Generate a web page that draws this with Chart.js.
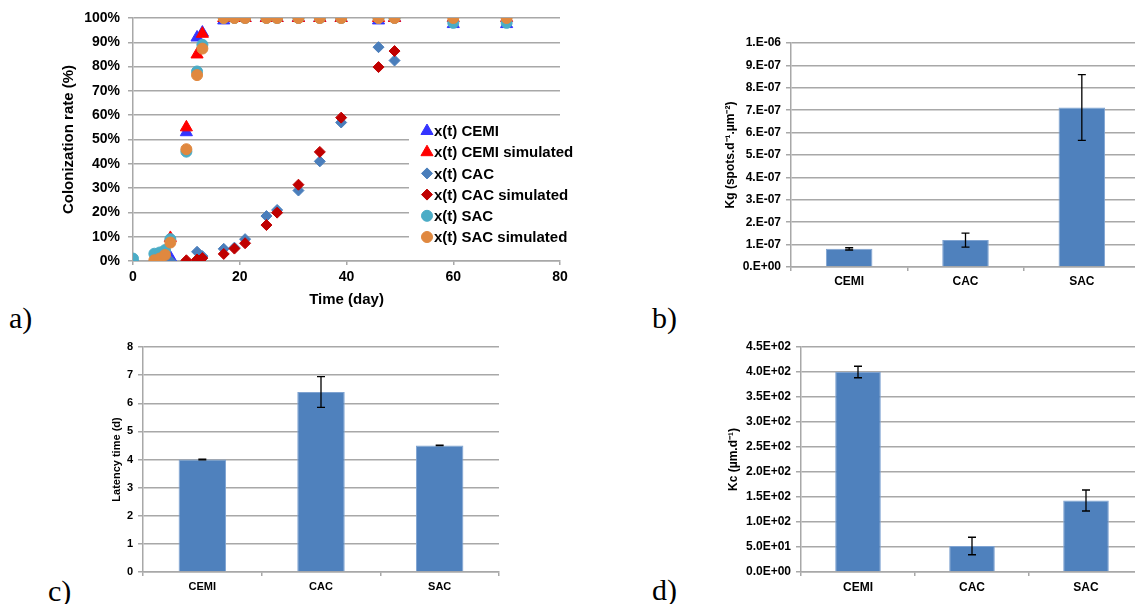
<!DOCTYPE html>
<html>
<head>
<meta charset="utf-8">
<script src="https://cdn.jsdelivr.net/npm/chart.js@4/dist/chart.umd.min.js"></script>
<style>
  body { margin: 0; width: 1135px; height: 604px; overflow: hidden; background: #fff; position: relative; }
  canvas { position: absolute; }
  .lbl { position: absolute; font-family: "Liberation Serif", "Times New Roman", serif; font-size: 30px; line-height: 30px; color: #000; }
</style>
</head>
<body>
<div class="lbl" style="left:9px;top:303px">a)</div>
<div class="lbl" style="left:652px;top:303px">b)</div>
<div class="lbl" style="left:48px;top:576px">c)</div>
<div class="lbl" style="left:652px;top:575px">d)</div>

<canvas id="chartA" width="600" height="320" style="left:0;top:0"></canvas>
<canvas id="chartB" width="460" height="300" style="left:680px;top:0"></canvas>
<canvas id="chartC" width="460" height="274" style="left:60px;top:330px"></canvas>
<canvas id="chartD" width="485" height="274" style="left:660px;top:330px"></canvas>

<script>
// a) colonization rate vs time (days, %)
const cemiDays = [0, 4, 5, 6, 7, 10, 12, 13, 17, 19, 21, 25, 27, 31, 35, 39, 46, 49, 60, 70];
const cemiRate = [0, 0, 0, 0.5, 1.5, 53, 92, 94, 99, 100, 100, 100, 100, 100, 100, 100, 99, 100, 97.5, 97.5];
const cemiSimDays = [4, 5, 6, 7, 10, 12, 13, 17, 19, 21, 25, 27, 31, 35, 39, 46, 49, 60, 70];
const cemiSimRate = [0, 0, 1, 9.5, 55, 85, 93.5, 100, 100, 100, 100, 100, 100, 100, 100, 100, 100, 100, 100];
const cacDays = [0, 4, 5, 6, 7, 12, 13, 17, 19, 21, 25, 27, 31, 35, 39, 46, 49];
const cacRate = [0, 0, 0, 0, 0, 3.8, 2, 5, 5.5, 9, 18.5, 21, 29, 41, 57, 88, 82.5];
const cacSimDays = [10, 12, 13, 17, 19, 21, 25, 27, 31, 35, 39, 46, 49];
const cacSimRate = [0.3, 0.6, 1.2, 2.9, 5.1, 7.3, 14.8, 19.9, 31.4, 44.9, 59, 79.8, 86.4];
const sacDays = [0, 4, 5, 6, 7, 10, 12, 13, 17, 19, 21, 25, 27, 31, 35, 39, 46, 49, 60, 70];
const sacRate = [1, 3, 3.5, 4.5, 9, 45, 78, 89, 100, 100, 100, 100, 100, 100, 100, 100, 100, 100, 98, 98];
const sacSimDays = [4, 5, 6, 7, 10, 12, 13, 17, 19, 21, 25, 27, 31, 35, 39, 46, 49, 60, 70];
const sacSimRate = [0.3, 1, 2.5, 7.6, 46, 76.5, 87.4, 100, 100, 100, 100, 100, 100, 100, 100, 100, 100, 100, 100];

// b), c), d) bar panels
const materials = ['CEMI', 'CAC', 'SAC'];
const kgMean = [8.1e-8, 1.2e-7, 7.12e-7];
const kgErr = [0.5e-8, 3.1e-8, 1.47e-7];
const latencyMean = [4.0, 6.4, 4.5];
const latencyErr = [0.01, 0.55, 0.01];
const kcMean = [400, 52, 143];
const kcErr = [11.5, 17.5, 21];

const FONT = '"Liberation Sans", Arial, sans-serif';
const GRID = '#A8A8A8';
const BAR = '#4F81BD';

Chart.defaults.font.family = FONT;
Chart.defaults.font.weight = 'bold';
Chart.defaults.color = '#000';
Chart.defaults.animation = false;

function points(days, rate) {
  return days.map((d, i) => ({ x: d, y: rate[i] }));
}

// white legend box sitting inside the plot of panel a
const insideLegend = {
  id: 'insideLegend',
  beforeDatasetsDraw(chart, args, opts) {
    if (!opts.items) return;
    const ctx = chart.ctx;
    ctx.save();
    ctx.fillStyle = '#fff';
    ctx.fillRect(opts.left, opts.top, opts.width, opts.height);
    ctx.font = 'bold 15px ' + FONT;
    ctx.textBaseline = 'middle';
    opts.items.forEach((ds, i) => {
      const y = opts.firstRow + i * opts.rowGap;
      ctx.fillStyle = ds.backgroundColor;
      ctx.strokeStyle = ds.backgroundColor;
      ctx.lineWidth = 1;
      Chart.helpers.drawPoint(ctx, {
        pointStyle: ds.pointStyle, radius: ds.pointRadius, rotation: 0, borderWidth: 1
      }, opts.markerX, y);
      ctx.fillStyle = '#000';
      ctx.fillText(ds.label, opts.markerX + 7, y + 1);
    });
    ctx.restore();
  }
};

const errorBars = {
  id: 'errorBars',
  afterDatasetsDraw(chart, args, opts) {
    if (!opts.errors) return;
    const ctx = chart.ctx;
    const yScale = chart.scales.y;
    const values = chart.data.datasets[0].data;
    ctx.save();
    ctx.strokeStyle = '#000';
    ctx.lineWidth = 1.3;
    chart.getDatasetMeta(0).data.forEach((bar, i) => {
      const hi = yScale.getPixelForValue(values[i] + opts.errors[i]);
      const lo = yScale.getPixelForValue(values[i] - opts.errors[i]);
      ctx.beginPath();
      ctx.moveTo(bar.x, hi); ctx.lineTo(bar.x, lo);
      ctx.moveTo(bar.x - 4, hi); ctx.lineTo(bar.x + 4, hi);
      ctx.moveTo(bar.x - 4, lo); ctx.lineTo(bar.x + 4, lo);
      ctx.stroke();
    });
    ctx.restore();
  }
};

Chart.register(insideLegend, errorBars);

function scatterSet(label, days, rate, color, style, radius, order) {
  return {
    label: label,
    data: points(days, rate),
    backgroundColor: color,
    borderColor: color,
    pointStyle: style,
    pointRadius: radius,
    pointBorderWidth: 1,
    showLine: false,
    order: order
  };
}

const scatterSets = [
  scatterSet('x(t) CEMI', cemiDays, cemiRate, '#3434FF', 'triangle', 7, 6),
  scatterSet('x(t) CEMI simulated', cemiSimDays, cemiSimRate, '#FF0000', 'triangle', 7, 5),
  scatterSet('x(t) CAC', cacDays, cacRate, '#4A7EBB', 'rectRot', 5.5, 4),
  scatterSet('x(t) CAC simulated', cacSimDays, cacSimRate, '#C00000', 'rectRot', 5.5, 3),
  scatterSet('x(t) SAC', sacDays, sacRate, '#4BACC6', 'circle', 5.5, 2),
  scatterSet('x(t) SAC simulated', sacSimDays, sacSimRate, '#E0883F', 'circle', 5.5, 1)
];

new Chart(document.getElementById('chartA'), {
  type: 'scatter',
  data: { datasets: scatterSets },
  options: {
    responsive: false,
    layout: { padding: { top: 18, right: 40, bottom: 0, left: 0 } },
    plugins: {
      legend: { display: false },
      tooltip: { enabled: false },
      insideLegend: {
        items: scatterSets, left: 409, top: 121, width: 170, height: 128,
        markerX: 427, firstRow: 131, rowGap: 21.2
      }
    },
    scales: {
      x: {
        type: 'linear', min: 0, max: 80,
        ticks: { stepSize: 20, font: { size: 14 }, padding: 4 },
        grid: { drawOnChartArea: false, tickLength: 4, color: GRID, lineWidth: 1.5 },
        border: { color: GRID, width: 1.5 },
        title: { display: true, text: 'Time (day)', font: { size: 15 }, padding: { top: 0, bottom: 11 } },
        afterFit: s => { s.height = 59; }
      },
      y: {
        min: 0, max: 100,
        ticks: { stepSize: 10, font: { size: 14 }, padding: 8, callback: v => v + '%' },
        grid: { color: GRID, lineWidth: 1.5, tickLength: 5 },
        border: { color: GRID, width: 1.5 },
        title: { display: true, text: 'Colonization rate (%)', font: { size: 15 }, padding: { top: 60, bottom: 0 } },
        afterFit: s => { s.width = 133; }
      }
    }
  }
});

function barChart(id, values, errors, cfg) {
  return new Chart(document.getElementById(id), {
    type: 'bar',
    data: {
      labels: materials,
      datasets: [{
        data: values,
        backgroundColor: BAR,
        borderColor: '#7FA3D1',
        borderWidth: 1,
        categoryPercentage: 1,
        barPercentage: 0.4
      }]
    },
    options: {
      responsive: false,
      layout: { padding: cfg.padding },
      plugins: {
        legend: { display: false },
        tooltip: { enabled: false },
        errorBars: { errors: errors }
      },
      scales: {
        x: {
          ticks: { font: { size: cfg.font }, padding: cfg.xPad },
          grid: { drawOnChartArea: false, tickLength: 4, color: GRID, lineWidth: 1.5 },
          border: { color: GRID, width: 1.5 },
          afterFit: s => { s.height = cfg.xHeight; }
        },
        y: {
          min: 0, max: cfg.max,
          ticks: { stepSize: cfg.step, font: { size: cfg.font }, padding: 5, callback: cfg.format },
          grid: { color: GRID, lineWidth: 1.5, tickLength: 5 },
          border: { color: GRID, width: 1.5 },
          title: { display: true, text: cfg.title, font: { size: cfg.font }, padding: { top: cfg.titlePad, bottom: 0 } },
          afterFit: s => { s.width = cfg.yWidth; }
        }
      }
    }
  });
}

// 1e-6 -> "1.E-06"
function shortSci(v) {
  const parts = Number(v).toExponential(0).split('e');
  return parts[0] + '.E' + parts[1][0] + parts[1].slice(1).padStart(2, '0');
}

// 450 -> "4.5E+02"
function sci1(v) {
  const parts = Number(v).toExponential(1).split('e');
  return parts[0] + 'E' + parts[1][0] + parts[1].slice(1).padStart(2, '0');
}

barChart('chartB', kgMean, kgErr, {
  padding: { top: 43, right: 0, bottom: 0, left: 0 },
  max: 1e-6, step: 1e-7, format: shortSci, font: 12,
  title: 'Kg (spots.d\u207B\u00B9.\u00B5m\u207B\u00B2)', titlePad: 43,
  yWidth: 111, xHeight: 33, xPad: 3.5
});

barChart('chartC', latencyMean, latencyErr, {
  padding: { top: 17, right: 21, bottom: 0, left: 0 },
  max: 8, step: 1, format: v => v, font: 11,
  title: 'Latency time (d)', titlePad: 50,
  yWidth: 83, xHeight: 32, xPad: 4
});

barChart('chartD', kcMean, kcErr, {
  padding: { top: 17, right: 2, bottom: 0, left: 0 },
  max: 450, step: 50, format: sci1, font: 12,
  title: 'Kc (\u00B5m.d\u207B\u00B9)', titlePad: 66,
  yWidth: 141, xHeight: 32, xPad: 4
});
</script>
</body>
</html>
